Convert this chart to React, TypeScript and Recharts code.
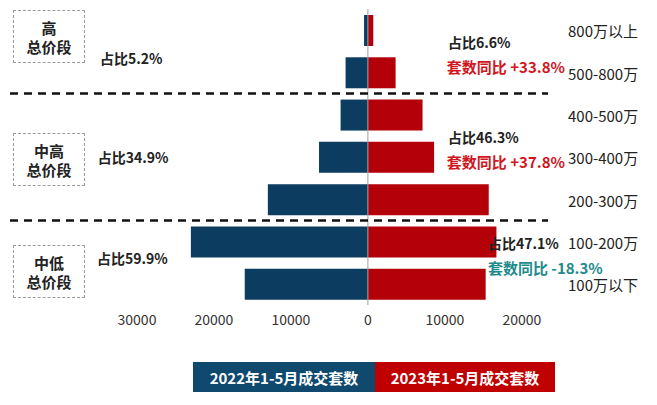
import React from 'react';
import { BarChart, Bar, XAxis, YAxis, ReferenceLine, ReferenceDot } from 'recharts';

const categories = ['800万以上', '500-800万', '400-500万', '300-400万', '200-300万', '100-200万', '100万以下'];
const sales2022 = [500, 2900, 3550, 6350, 13000, 23000, 16000];
const sales2023 = [700, 3600, 7100, 8600, 15700, 16700, 15300];
const seriesNames = ['2022年1-5月成交套数', '2023年1-5月成交套数'];
const xTicks = [-30000, -20000, -10000, 0, 10000, 20000];

const groupNames = ['高\n总价段', '中高\n总价段', '中低\n总价段'];
const shares2022 = ['占比5.2%', '占比34.9%', '占比59.9%'];
const shares2023 = ['占比6.6%', '占比46.3%', '占比47.1%'];
const yoyTexts = ['套数同比 +33.8%', '套数同比 +37.8%', '套数同比 -18.3%'];

const BLUE = '#0c3d61';
const RED = '#b40008';
const FONT = '"Noto Sans CJK SC", "Noto Sans", sans-serif';

const data = categories.map((name, i) => ({
  name,
  idx: i,
  y2022: -sales2022[i],
  y2023: sales2023[i],
}));

// where each annotation sits, in axis units (x value, row index)
const leftShareAt = [[-34800, 0.66], [-35100, 3.0], [-35200, 5.39]];
const rightShareAt = [[10400, 0.28], [10400, 2.53], [15600, 5.04]];
const yoyAt = [[10260, 0.87], [10260, 3.1], [15600, 5.62]];
const yoyColors = ['#d0161e', '#d0161e', '#1e8a8c'];
const groupBoxTop = [10, 133, 245];

const textLabel = (text: string, color: string, size: number) => (props: any) => {
  const vb = props.viewBox || {};
  return (
    <text x={vb.x} y={vb.y} dominantBaseline="central" fill={color}
      fontSize={size} fontWeight="bold" fontFamily={FONT}>
      {text}
    </text>
  );
};

export default function App() {
  return (
    <div style={{ position: 'absolute', left: 0, top: 0, width: 657, height: 405, background: '#fff', fontFamily: FONT }}>
      <BarChart
        width={657}
        height={405}
        data={data}
        layout="vertical"
        stackOffset="sign"
        margin={{ top: 9, right: 0, bottom: 70, left: 10 }}
      >
        <XAxis
          type="number"
          domain={[-46500, 23400]}
          ticks={xTicks}
          allowDataOverflow
          tickFormatter={(v: number) => String(Math.abs(v))}
          axisLine={false}
          tickLine={false}
          tickSize={0}
          tickMargin={10}
          height={30}
          tick={{ fontSize: 14, fill: '#333', fontFamily: FONT }}
        />
        <YAxis
          yAxisId="cat"
          type="category"
          dataKey="name"
          orientation="right"
          width={109}
          axisLine={false}
          tickLine={false}
          tickSize={0}
          tickMargin={20}
          tick={{ fontSize: 15, fill: '#222', fontFamily: FONT, dy: 2 }}
        />
        {/* row-index axis: half a band of padding puts each index on its bar's centre */}
        <YAxis yAxisId="num" type="number" dataKey="idx" hide domain={[0, 6]} padding={{ top: 21, bottom: 21 }} allowDataOverflow />
        <Bar yAxisId="cat" dataKey="y2022" name={seriesNames[0]} stackId="s" fill={BLUE} barSize={31} isAnimationActive={false} />
        <Bar yAxisId="cat" dataKey="y2023" name={seriesNames[1]} stackId="s" fill={RED} barSize={31} isAnimationActive={false} />
        <ReferenceLine yAxisId="num" x={0} stroke="#a0a0a0" strokeWidth={1} />
        <ReferenceLine yAxisId="num" y={1.5} stroke="#111" strokeWidth={2.5} strokeDasharray="8 6" />
        <ReferenceLine yAxisId="num" y={4.5} stroke="#111" strokeWidth={2.5} strokeDasharray="8 6" />
        {shares2022.map((t, i) => (
          <ReferenceDot key={'l' + i} yAxisId="num" x={leftShareAt[i][0]} y={leftShareAt[i][1]} r={0}
            fill="none" stroke="none" label={textLabel(t, '#222', 14)} />
        ))}
        {shares2023.map((t, i) => (
          <ReferenceDot key={'r' + i} yAxisId="num" x={rightShareAt[i][0]} y={rightShareAt[i][1]} r={0}
            fill="none" stroke="none" label={textLabel(t, '#222', 14)} />
        ))}
        {yoyTexts.map((t, i) => (
          <ReferenceDot key={'y' + i} yAxisId="num" x={yoyAt[i][0]} y={yoyAt[i][1]} r={0}
            fill="none" stroke="none" label={textLabel(t, yoyColors[i], 15)} />
        ))}
      </BarChart>

      {groupNames.map((g, i) => (
        <div key={g} style={{
          position: 'absolute', left: 13, top: groupBoxTop[i], width: 70, height: 51,
          border: '1px dashed #9a9a9a', display: 'flex', alignItems: 'center', justifyContent: 'center',
          textAlign: 'center', whiteSpace: 'pre-line', fontSize: 15, fontWeight: 'bold', lineHeight: '19px', color: '#222',
        }}>
          {g}
        </div>
      ))}

      <div style={{ position: 'absolute', left: 193, top: 362, height: 30, display: 'flex' }}>
        {seriesNames.map((n, i) => (
          <div key={n} style={{
            width: i === 0 ? 182 : 180, height: 30, background: i === 0 ? '#0f4a6e' : '#c00000',
            color: '#fff', fontWeight: 'bold', fontSize: 15, display: 'flex', alignItems: 'center', justifyContent: 'center',
          }}>
            {n}
          </div>
        ))}
      </div>
    </div>
  );
}
